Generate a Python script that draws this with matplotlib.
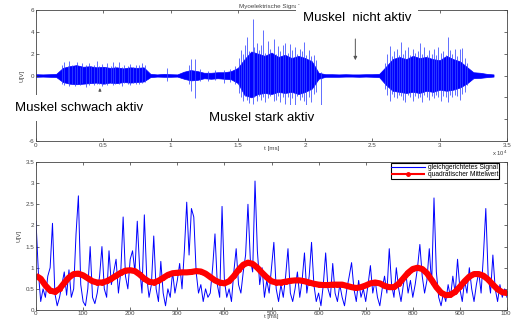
import matplotlib
matplotlib.use("Agg")
import matplotlib.pyplot as plt

plt.rcParams['font.family'] = ['Liberation Sans', 'DejaVu Sans']

# ---------------- data: top panel (raw EMG, x in 1e4 samples) ----------------
env_t = [0.00, 0.05, 0.10, 0.15, 0.20, 0.25, 0.30, 0.35, 0.40, 0.45, 0.50, 0.55,
         0.60, 0.65, 0.70, 0.75, 0.80, 0.85, 0.90, 0.95, 1.00, 1.05, 1.10, 1.15,
         1.20, 1.25, 1.30, 1.35, 1.40, 1.45, 1.50, 1.55, 1.60, 1.65, 1.70, 1.75,
         1.80, 1.85, 1.90, 1.95, 2.00, 2.05, 2.10, 2.15, 2.20, 2.25, 2.30, 2.35,
         2.40, 2.45, 2.50, 2.55, 2.60, 2.65, 2.70, 2.75, 2.80, 2.85, 2.90, 2.95,
         3.00, 3.05, 3.10, 3.15, 3.20, 3.25, 3.30, 3.35, 3.40]
env_up = [0.12, 0.10, 0.12, 0.15, 0.70, 0.85, 0.95, 0.80, 0.85, 0.75, 0.80, 0.70,
          0.75, 0.65, 0.75, 0.70, 0.75, 0.15, 0.10, 0.15, 0.12, 0.10, 0.35, 0.50,
          0.40, 0.25, 0.25, 0.30, 0.30, 0.40, 0.70, 1.50, 2.20, 2.00, 1.80, 2.10,
          1.70, 1.90, 1.60, 1.80, 1.60, 1.30, 0.25, 0.12, 0.12, 0.10, 0.12, 0.10,
          0.10, 0.12, 0.12, 0.15, 0.80, 1.50, 1.70, 1.50, 1.80, 1.60, 1.70, 1.50,
          1.40, 1.80, 1.50, 1.30, 0.80, 0.30, 0.25, 0.15, 0.10]
env_lo = [-0.12, -0.10, -0.12, -0.14, -0.60, -0.75, -0.80, -0.75, -0.70, -0.65, -0.75, -0.65,
          -0.70, -0.60, -0.65, -0.60, -0.55, -0.15, -0.10, -0.12, -0.12, -0.10, -0.30, -0.45,
          -0.40, -0.25, -0.30, -0.25, -0.30, -0.35, -0.70, -1.80, -2.00, -1.70, -1.60, -1.70,
          -1.50, -1.60, -1.50, -1.70, -1.50, -1.20, -0.30, -0.12, -0.12, -0.12, -0.10, -0.10,
          -0.12, -0.10, -0.12, -0.15, -0.85, -1.40, -1.50, -1.60, -1.50, -1.60, -1.40, -1.50,
          -1.30, -1.40, -1.30, -1.10, -0.75, -0.25, -0.22, -0.15, -0.10]

spike_t = [0.195, 0.21, 0.235, 0.245, 0.27, 0.29, 0.305, 0.33, 0.345, 0.37, 0.395,
           0.41, 0.43, 0.455, 0.465, 0.49, 0.515, 0.53, 0.555, 0.575, 0.59, 0.615,
           0.64, 0.655, 0.68, 0.70, 0.72, 0.745, 0.765, 0.79, 0.81,
           0.97, 1.135, 1.15, 1.18, 1.22, 1.28, 1.33, 1.40, 1.445, 1.48,
           1.505, 1.52, 1.54, 1.555, 1.57, 1.585, 1.61, 1.62, 1.64, 1.655, 1.675,
           1.69, 1.705, 1.725, 1.74, 1.765, 1.78, 1.795, 1.815, 1.835, 1.85, 1.87,
           1.885, 1.905, 1.925, 1.94, 1.96, 1.975, 1.995, 2.01, 2.03, 2.045, 2.065,
           2.08, 2.12,
           2.595, 2.61, 2.63, 2.645, 2.66, 2.68, 2.695, 2.71, 2.73, 2.745, 2.765,
           2.78, 2.80, 2.815, 2.835, 2.85, 2.87, 2.885, 2.905, 2.92, 2.94, 2.955,
           2.975, 2.99, 3.01, 3.025, 3.045, 3.06, 3.08, 3.095, 3.115, 3.13, 3.15,
           3.165, 3.185, 3.20]
spike_hi = [0.95, 1.2, 0.85, 1.3, 1.0, 0.9, 1.25, 0.8, 1.1, 0.95, 1.15,
            0.85, 1.0, 1.3, 0.9, 1.05, 0.8, 1.15, 0.9, 1.2, 0.85, 1.2,
            0.8, 1.0, 0.9, 1.05, 0.8, 1.0, 0.95, 1.1, 1.0,
            0.7, 1.0, 1.5, 1.5, 0.6, 0.4, 0.5, 0.5, 0.6, 0.9,
            1.6, 2.3, 2.0, 2.8, 3.5, 2.2, 5.2, 2.6, 3.0, 2.3, 2.8,
            4.2, 2.1, 3.2, 2.4, 3.3, 2.0, 2.7, 2.2, 2.8, 3.0, 2.1,
            2.9, 2.3, 2.6, 2.0, 2.4, 2.2, 3.1, 1.9, 2.3, 1.8, 1.9,
            1.4, 0.3,
            1.1, 2.0, 2.7, 1.8, 2.2, 2.4, 1.9, 3.1, 2.0, 2.3, 2.6,
            1.9, 2.4, 2.1, 2.2, 3.0, 2.0, 2.6, 1.9, 2.3, 2.0, 2.4,
            1.9, 2.6, 2.1, 2.2, 1.9, 3.5, 2.3, 2.0, 2.4, 1.8, 2.4,
            2.5, 1.6, 1.1]
spike_lo = [-0.8, -0.9, -0.7, -1.0, -0.75, -1.0, -0.8, -0.9, -0.7, -1.05, -0.85,
            -0.7, -0.9, -0.8, -0.75, -1.0, -0.8, -0.9, -0.7, -0.85, -0.8, -0.75,
            -0.95, -0.7, -0.8, -0.85, -0.7, -0.75, -0.8, -0.7, -0.6,
            -0.5, -0.8, -1.4, -2.1, -0.5, -0.5, -0.4, -0.7, -0.55, -0.8,
            -1.6, -2.0, -2.3, -1.9, -2.2, -2.5, -2.6, -2.0, -2.3, -1.9, -2.2,
            -2.0, -2.4, -2.1, -1.9, -2.3, -2.2, -1.9, -2.4, -2.0, -2.6, -2.0,
            -2.7, -2.1, -2.8, -1.9, -2.2, -2.0, -2.3, -2.9, -2.0, -2.4, -1.7,
            -1.5, -2.9,
            -1.2, -1.8, -2.3, -1.7, -2.0, -2.1, -1.8, -1.9, -2.2, -2.4, -1.8,
            -2.0, -2.3, -1.9, -2.1, -2.0, -2.4, -1.8, -2.0, -2.2, -1.9, -2.1,
            -1.8, -2.0, -2.3, -1.9, -2.0, -2.4, -1.8, -2.0, -1.8, -1.9, -2.2,
            -1.7, -1.5, -0.9]

top_xticks = [0, 0.5, 1, 1.5, 2, 2.5, 3, 3.5]
top_xlabels = ["0", "0.5", "1", "1.5", "2", "2.5", "3", "3.5"]
top_yticks = [-6, -4, -2, 0, 2, 4, 6]
top_ylabels = ["-6", "-4", "-2", "0", "2", "4", "6"]

# ---------------- data: bottom panel ----------------
sig_t = list(range(0, 1001, 5))
sig_v = [2.1, 0.9, 0.2, 0.5, 0.3, 0.8, 1.0, 2.05, 0.4, 0.1,
         0.3, 0.6, 0.9, 0.35, 0.95, 0.3, 0.5, 1.8, 2.7, 0.6,
         0.2, 0.1, 0.5, 1.5, 0.3, 0.15, 0.4, 0.8, 1.5, 0.5,
         0.3, 1.4, 0.6, 0.9, 1.2, 0.4, 0.9, 2.2, 0.8, 0.5,
         1.2, 1.4, 0.9, 2.1, 1.0, 0.4, 2.25, 0.8, 0.3, 0.6,
         1.75, 0.5, 0.2, 1.15, 0.4, 0.1, 0.5, 0.3, 0.9, 0.4,
         0.7, 1.1, 0.5, 1.4, 2.55, 1.3, 2.4, 2.2, 0.9, 0.4,
         0.6, 0.2, 0.5, 0.3, 0.4, 1.0, 1.8, 0.6, 0.3, 2.45,
         0.7, 0.3, 0.5, 0.2, 0.9, 1.45, 0.6, 0.4, 0.9, 1.3,
         2.5, 1.2, 0.9, 3.05, 1.4, 0.6, 1.0, 0.3, 0.7, 0.4,
         1.0, 1.6, 0.5, 0.2, 0.6, 0.3, 0.8, 1.45, 0.4, 0.2,
         0.5, 0.9, 0.3, 0.7, 1.35, 0.4, 0.8, 1.6, 0.6, 0.2,
         0.4, 0.1, 0.6, 1.35, 0.5, 0.3, 1.1, 0.4, 0.2, 0.6,
         0.3, 0.1, 0.5, 0.8, 1.12, 0.5, 0.2, 0.7, 0.3, 0.5,
         0.2, 0.6, 1.05, 0.4, 0.7, 0.3, 0.1, 0.5, 0.8, 0.4,
         1.45, 0.6, 0.3, 1.0, 0.5, 0.2, 0.6, 0.9, 0.4, 0.7,
         0.3, 0.6, 1.0, 1.55, 0.8, 0.4, 0.7, 1.45, 0.6, 2.65,
         0.9, 0.3, 0.1, 0.4, 0.2, 0.6, 0.3, 0.8, 0.4, 1.2,
         0.5, 0.2, 0.7, 0.4, 1.0, 0.5, 0.2, 0.6, 0.9, 0.4,
         1.3, 2.4, 0.8, 0.4, 1.3, 0.5, 0.2, 0.6, 0.3, 0.5,
         0.3]
rms_t = list(range(0, 1001, 10))
rms_v = [0.81, 0.74, 0.58, 0.46, 0.43, 0.50, 0.64, 0.77, 0.85, 0.86,
         0.82, 0.75, 0.68, 0.65, 0.65, 0.68, 0.74, 0.81, 0.88, 0.93,
         0.94, 0.92, 0.84, 0.74, 0.67, 0.65, 0.69, 0.76, 0.83, 0.87,
         0.88, 0.89, 0.89, 0.90, 0.92, 0.91, 0.86, 0.78, 0.70, 0.65,
         0.63, 0.68, 0.80, 0.95, 1.07, 1.12, 1.09, 1.00, 0.88, 0.77,
         0.68, 0.65, 0.65, 0.67, 0.69, 0.70, 0.70, 0.68, 0.65, 0.62,
         0.60, 0.59, 0.59, 0.60, 0.60, 0.60, 0.57, 0.54, 0.52, 0.54,
         0.58, 0.63, 0.65, 0.63, 0.57, 0.54, 0.54, 0.62, 0.75, 0.88,
         0.97, 1.00, 0.97, 0.87, 0.71, 0.54, 0.41, 0.35, 0.36, 0.43,
         0.55, 0.68, 0.79, 0.85, 0.85, 0.81, 0.72, 0.60, 0.49, 0.42,
         0.40]
bot_xticks = list(range(0, 1001, 100))
bot_yticks = [0, 0.5, 1, 1.5, 2, 2.5, 3, 3.5]
bot_ylabels = ["0", "0.5", "1", "1.5", "2", "2.5", "3", "3.5"]
legend_labels = ["gleichgerichtetes Signal", "quadratischer Mittelwert"]

# ---------------- figure ----------------
W, H = 511, 320
fig = plt.figure(figsize=(W / 100, H / 100), dpi=100)
L, R = 36 / W, 507 / W

def style(ax, xpad=1.2):
    ax.tick_params(direction='in', length=2.2, width=0.5, labelsize=4.5,
                   top=True, right=True, pad=1.2, colors='#333333', labelcolor='#444444')
    ax.tick_params(axis='x', pad=xpad)
    for s in ax.spines.values():
        s.set_linewidth(0.6)
        s.set_color('#444444')

ax1 = fig.add_axes([L, 1 - 141 / H, R - L, (141 - 10) / H])
ax1.fill_between(env_t, env_lo, env_up, color='#0000ff', lw=0.5, edgecolor='#0000ff')
ax1.vlines(spike_t, spike_lo, spike_hi, color='#3646ff', lw=0.55)
ax1.set_xlim(0, 3.5)
ax1.set_ylim(-6, 6)
ax1.set_xticks(top_xticks, top_xlabels)
ax1.set_yticks(top_yticks, top_ylabels)
style(ax1)
ax1.set_xlabel('t [ms]', fontsize=4.5, labelpad=-1, color='#444444')
ax1.set_ylabel('U[V]', fontsize=4.5, labelpad=3, color='#444444')
ax1.set_title('Myoelektrische Signale', fontsize=4.5, pad=1.5, color='#444444')
ax1.text(1.0, -0.06, r'x 10$^4$', transform=ax1.transAxes, fontsize=4.2,
         ha='right', va='top', color='#444444')

# arrows in top panel
ax1.annotate('', xy=(0.475, -0.9), xytext=(0.475, -1.7),
             arrowprops=dict(arrowstyle='-|>', color='#555555', lw=0.6,
                             mutation_scale=4))
ax1.annotate('', xy=(2.373, 1.15), xytext=(2.373, 3.6),
             arrowprops=dict(arrowstyle='-|>', color='#555555', lw=0.7,
                             mutation_scale=5))
ax1.annotate('', xy=(1.765, -2.6), xytext=(1.765, -4.2),
             arrowprops=dict(arrowstyle='-|>', color='#222222', lw=0.6,
                             mutation_scale=4))

ax2 = fig.add_axes([L, 1 - 310 / H, R - L, (310 - 162) / H])
ax2.plot(sig_t, sig_v, color='#0000ff', lw=0.7, label=legend_labels[0])
ax2.plot(rms_t, rms_v, color='#ff0000', lw=4.4, marker='o', ms=2.5,
         solid_capstyle='butt', label=legend_labels[1])
ax2.set_xlim(0, 1000)
ax2.set_ylim(0, 3.5)
ax2.set_xticks(bot_xticks, [str(v) for v in bot_xticks])
ax2.set_yticks(bot_yticks, bot_ylabels)
style(ax2, xpad=0.8)
ax2.set_xlabel('t [ms]', fontsize=4.2, labelpad=-1.2, color='#444444')
ax2.set_ylabel('U[V]', fontsize=4.5, labelpad=3, color='#444444')
leg = ax2.legend(loc='upper right', bbox_to_anchor=(0.983, 0.99), borderaxespad=0,
                 fontsize=4.8, handlelength=5, labelspacing=0.0, borderpad=0.1,
                 handletextpad=0.5, fancybox=False, framealpha=1)
leg.get_frame().set_edgecolor('#000000')
leg.get_frame().set_linewidth(0.8)
for h in leg.get_lines():
    h.set_linewidth(0.8 if h.get_color() == '#0000ff' else 1.5)

# annotations (figure-level, white boxes)
bb = dict(boxstyle='square,pad=0.55', facecolor='white', edgecolor='none')
fig.text(79 / W, 1 - 108 / H, 'Muskel schwach aktiv', fontsize=9.5, ha='center',
         va='center', bbox=bb, zorder=10)
fig.text(262 / W, 1 - 118 / H, 'Muskel stark aktiv', fontsize=9.5, ha='center',
         va='center', bbox=bb, zorder=10)
fig.text(357 / W, 1 - 18 / H, 'Muskel  nicht aktiv', fontsize=9.5, ha='center',
         va='center', bbox=bb, zorder=10)

fig.savefig('out.png', dpi=100)
